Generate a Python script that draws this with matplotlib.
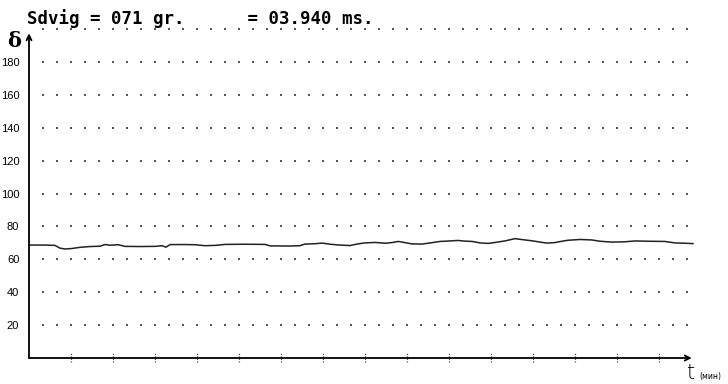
import numpy as np
import matplotlib.pyplot as plt

# time (min) and displacement readings taken from the trace
t_min = [0.00, 0.38, 0.62, 0.74, 0.86, 1.02, 1.21, 1.45, 1.69, 1.81, 1.93, 2.12,
         2.29, 2.64, 3.00, 3.17, 3.26, 3.36, 3.71, 3.95, 4.19, 4.43, 4.67, 5.14,
         5.62, 5.74, 6.21, 6.45, 6.57, 6.81, 6.98, 7.17, 7.40, 7.64, 7.83, 8.00,
         8.24, 8.48, 8.64, 8.79, 8.95, 9.12, 9.36, 9.55, 9.79, 10.02, 10.21, 10.38,
         10.55, 10.74, 10.93, 11.10, 11.33, 11.57, 11.81, 11.98, 12.17, 12.33,
         12.52, 12.64, 12.83, 13.12, 13.40, 13.60, 13.88, 14.19, 14.43, 14.79,
         15.14, 15.38, 15.62, 15.81]
delta = [68.7, 68.7, 68.5, 66.8, 66.3, 66.6, 67.3, 67.8, 68.0, 69.0, 68.6, 68.9,
         67.9, 67.8, 67.9, 68.3, 67.4, 69.0, 69.0, 68.9, 68.3, 68.5, 69.1, 69.2,
         69.1, 68.2, 68.1, 68.3, 69.3, 69.5, 69.9, 69.2, 68.7, 68.4, 69.4, 70.0,
         70.3, 69.8, 70.2, 70.9, 70.2, 69.4, 69.3, 70.0, 70.9, 71.2, 71.5, 71.1,
         70.9, 70.0, 69.7, 70.3, 71.2, 72.6, 71.8, 71.3, 70.5, 69.9,
         70.2, 70.8, 71.6, 72.1, 71.8, 71.0, 70.5, 70.7, 71.2, 71.0,
         70.9, 70.0, 69.8, 69.6]

y_ticks = [20, 40, 60, 80, 100, 120, 140, 160, 180]
x_ticks = list(range(1, 16))
title_txt = "Sdvig = 071 gr.      = 03.940 ms."

W, H = 728, 384
fig = plt.figure(figsize=(W / 100, H / 100), dpi=100)
fig.patch.set_facecolor('white')

# pixel geometry of the plot origin
x0, y0 = 29, 358
px_t, px_d = 42.0, 1.644
ax = fig.add_axes([x0 / W, (H - y0) / H, (W - x0) / W, y0 / H])
ax.set_xlim(0, (W - x0) / px_t)
ax.set_ylim(0, y0 / px_d)
for s in ax.spines.values():
    s.set_visible(False)

# dotted grid
gx = np.arange(1, 48) / 3.0
gy = np.arange(20, 201, 20)
GX, GY = np.meshgrid(gx, gy)
ax.scatter(GX.ravel(), GY.ravel(), s=0.9, marker='s', color='#555555', lw=0, clip_on=False)

# axes with arrows
ax.annotate('', xy=(0, 197.5), xytext=(0, 0),
            arrowprops=dict(arrowstyle='->', lw=1.3, color='black', mutation_scale=9,
                            shrinkA=0, shrinkB=0), annotation_clip=False)
ax.annotate('', xy=(15.78, 0), xytext=(0, 0),
            arrowprops=dict(arrowstyle='->', lw=1.3, color='black', mutation_scale=9,
                            shrinkA=0, shrinkB=0), annotation_clip=False)

# x tick marks (small dotted)
ax.vlines(x_ticks, -2.5, 3.5, colors='#555555', lw=0.9, linestyles=(0, (1, 1)), clip_on=False)

ax.plot(t_min, delta, color='#222222', lw=1.1, clip_on=False)

ax.set_yticks(y_ticks)
ax.set_yticklabels([str(v) for v in y_ticks], fontsize=8, family='Liberation Sans')
ax.tick_params(axis='y', length=0, pad=7)
ax.set_xticks([])

fig.text(27 / W, 1 - 24 / H, title_txt, family='DejaVu Sans Mono', fontweight='bold',
         fontsize=12.5, va='baseline', ha='left')
fig.text(7 / W, 1 - 41 / H, 'δ', family='DejaVu Serif', fontweight='bold',
         fontsize=15, va='center', ha='left')
fig.text(687 / W, 1 - 379 / H, 't', family='DejaVu Sans', fontweight='light',
         fontsize=15, va='baseline', ha='left')
fig.text(699 / W, 1 - 379 / H, '(мин)', family='DejaVu Sans', fontsize=5.5,
         va='baseline', ha='left')

fig.savefig('out.png', dpi=100)
